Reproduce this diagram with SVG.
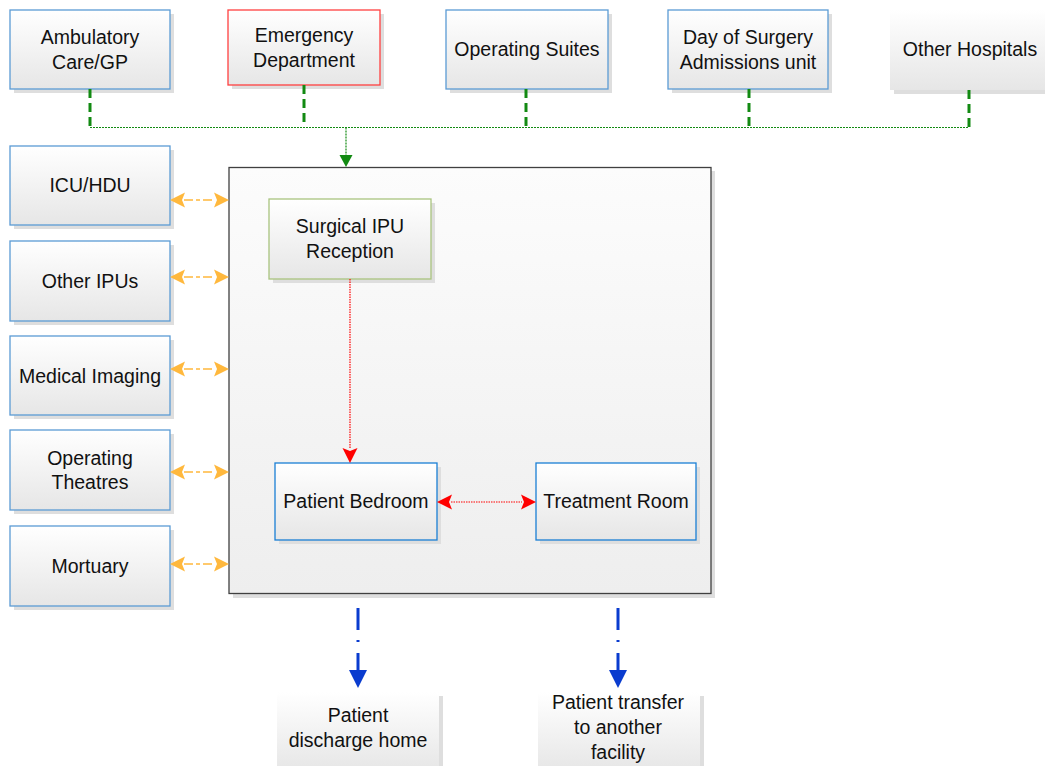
<svg xmlns="http://www.w3.org/2000/svg" width="1045" height="766" viewBox="0 0 1045 766">
<defs>
<linearGradient id="gBox" x1="0" y1="0" x2="0" y2="1">
<stop offset="0" stop-color="#ffffff"/><stop offset="1" stop-color="#e6e6e6"/>
</linearGradient>
<linearGradient id="gBig" x1="0" y1="0" x2="0" y2="1">
<stop offset="0" stop-color="#fcfcfc"/><stop offset="1" stop-color="#eeeeee"/>
</linearGradient>
<marker id="mOrange" viewBox="0 -9 18 18" refX="1" refY="0" markerWidth="18" markerHeight="18" markerUnits="userSpaceOnUse" orient="auto-start-reverse">
<path d="M0,-7.5 L15,0 L0,7.5 L3,0 Z" fill="#FFB83D"/>
</marker>
<marker id="mRed" viewBox="0 -9 18 18" refX="1" refY="0" markerWidth="18" markerHeight="18" markerUnits="userSpaceOnUse" orient="auto-start-reverse">
<path d="M0,-7.5 L15,0 L0,7.5 L3,0 Z" fill="#FF0000"/>
</marker>
<marker id="mGreen" viewBox="0 -8 16 16" refX="1" refY="0" markerWidth="16" markerHeight="16" markerUnits="userSpaceOnUse" orient="auto">
<path d="M0,-6.5 L12,0 L0,6.5 Z" fill="#128A12"/>
</marker>
<marker id="mBlue" viewBox="0 -10 20 20" refX="0" refY="0" markerWidth="20" markerHeight="20" markerUnits="userSpaceOnUse" orient="auto">
<path d="M0,-9 L18,0 L0,9 Z" fill="#0A3CCF"/>
</marker>
</defs>
<style>
text{font-family:"Liberation Sans",Arial,sans-serif;font-size:19.5px;fill:#111;text-anchor:middle;dominant-baseline:central}
.sh{fill:#dedede}
.box{fill:url(#gBox);stroke:#5B9BD5;stroke-width:1.3}
.red{fill:url(#gBox);stroke:#FF4040;stroke-width:1.3}
.grn{fill:url(#gBox);stroke:#A9C47F;stroke-width:1.3}
.inn{fill:url(#gBox);stroke:#1A7FD4;stroke-width:1.3}
.plain{fill:url(#gBox);stroke:none}
.gstub{stroke:#128A12;stroke-width:3;stroke-dasharray:9 5;fill:none}
.gdot{stroke:#128A12;stroke-width:1.2;stroke-dasharray:2 1;fill:none}
.org{stroke:#FFB83D;stroke-width:1.6;stroke-dasharray:9 3 4 3;fill:none;marker-start:url(#mOrange);marker-end:url(#mOrange)}
.rd{stroke:#FF0000;stroke-width:1.2;stroke-dasharray:1.5 1;fill:none}
.bl{stroke:#0A3CCF;stroke-width:3;stroke-dasharray:22 10 2 11 40;fill:none;marker-end:url(#mBlue)}
</style>

<g id="container">
<rect x="233" y="171" width="482" height="427" class="sh"/>
<rect x="229" y="167.5" width="482" height="426" fill="url(#gBig)" stroke="#404040" stroke-width="1.3"/>
</g>

<g id="ambulatory"><rect x="14" y="14" width="160" height="79" class="sh"/><rect x="10" y="10" width="160" height="79" class="box"/><text x="90" y="37">Ambulatory</text><text x="90" y="62">Care/GP</text></g>
<g id="emergency"><rect x="232" y="14" width="152" height="75" class="sh"/><rect x="228" y="10" width="152" height="75" class="red"/><text x="304" y="35">Emergency</text><text x="304" y="60">Department</text></g>
<g id="opsuites"><rect x="450" y="14" width="162" height="79" class="sh"/><rect x="446" y="10" width="162" height="79" class="box"/><text x="527" y="49">Operating Suites</text></g>
<g id="daysurgery"><rect x="672" y="14" width="160" height="79" class="sh"/><rect x="668" y="10" width="160" height="79" class="box"/><text x="748" y="37">Day of Surgery</text><text x="748" y="62">Admissions unit</text></g>
<g id="otherhospitals"><rect x="894" y="14" width="155" height="80" class="sh"/><rect x="890" y="10" width="155" height="80" class="plain"/><text x="970" y="49">Other Hospitals</text></g>

<g id="icu"><rect x="14" y="150" width="160" height="79" class="sh"/><rect x="10" y="146" width="160" height="79" class="box"/><text x="90" y="185">ICU/HDU</text></g>
<g id="otheripus"><rect x="14" y="245" width="160" height="80" class="sh"/><rect x="10" y="241" width="160" height="80" class="box"/><text x="90" y="281">Other IPUs</text></g>
<g id="imaging"><rect x="14" y="340" width="160" height="79" class="sh"/><rect x="10" y="336" width="160" height="79" class="box"/><text x="90" y="376">Medical Imaging</text></g>
<g id="theatres"><rect x="14" y="434" width="160" height="80" class="sh"/><rect x="10" y="430" width="160" height="80" class="box"/><text x="90" y="458">Operating</text><text x="90" y="482">Theatres</text></g>
<g id="mortuary"><rect x="14" y="530" width="160" height="80" class="sh"/><rect x="10" y="526" width="160" height="80" class="box"/><text x="90" y="566">Mortuary</text></g>

<g id="reception"><rect x="273" y="203" width="162" height="80" class="sh"/><rect x="269" y="199" width="162" height="80" class="grn"/><text x="350" y="226">Surgical IPU</text><text x="350" y="251">Reception</text></g>
<g id="bedroom"><rect x="279" y="467" width="162" height="77" class="sh"/><rect x="275" y="463" width="162" height="77" class="inn"/><text x="356" y="501">Patient Bedroom</text></g>
<g id="treatment"><rect x="540" y="467" width="160" height="77" class="sh"/><rect x="536" y="463" width="160" height="77" class="inn"/><text x="616" y="501">Treatment Room</text></g>

<g id="discharge"><rect x="281" y="696" width="162" height="80" class="sh"/><rect x="277" y="692" width="162" height="80" class="plain"/><text x="358" y="715">Patient</text><text x="358" y="740">discharge home</text></g>
<g id="transfer"><rect x="542" y="696" width="162" height="80" class="sh"/><rect x="538" y="692" width="162" height="80" class="plain"/><text x="618" y="702">Patient transfer</text><text x="618" y="727">to another</text><text x="618" y="752">facility</text></g>

<g id="connectors">
<path class="gstub" d="M90,89 V127"/>
<path class="gstub" d="M304,85 V127"/>
<path class="gstub" d="M526,89 V127"/>
<path class="gstub" d="M749,89 V127"/>
<path class="gstub" d="M969,90 V127"/>
<path class="gdot" d="M90,127.5 H969"/>
<path class="gdot" d="M346,127.5 V156" marker-end="url(#mGreen)"/>
<path class="org" d="M184,200 H215"/>
<path class="org" d="M184,277 H215"/>
<path class="org" d="M184,369 H215"/>
<path class="org" d="M184,472 H215"/>
<path class="org" d="M184,564 H215"/>
<path class="rd" d="M350,279 V449" marker-end="url(#mRed)"/>
<path class="rd" d="M451,502 H522" marker-start="url(#mRed)" marker-end="url(#mRed)"/>
<path class="bl" d="M358,608 V670"/>
<path class="bl" d="M618,608 V670"/>
</g>
</svg>
